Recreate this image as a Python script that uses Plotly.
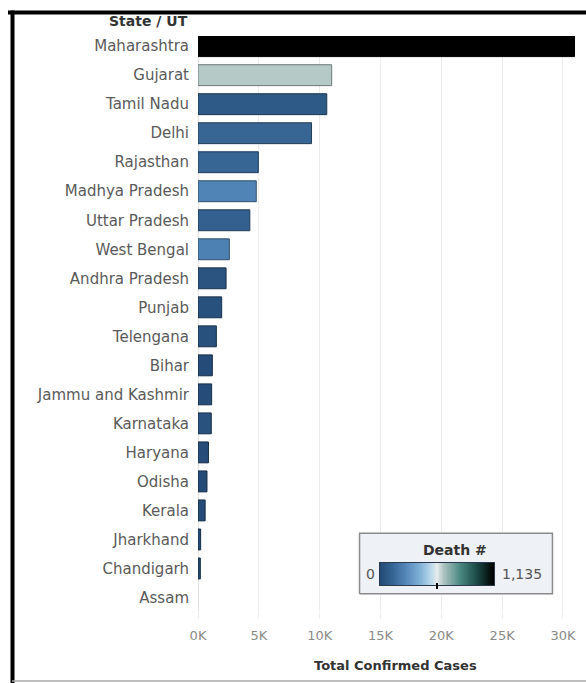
import re
import numpy as np
import plotly.graph_objects as go
import plotly.colors as pc

# ---------------- data ----------------
states = ["Maharashtra", "Gujarat", "Tamil Nadu", "Delhi", "Rajasthan",
          "Madhya Pradesh", "Uttar Pradesh", "West Bengal", "Andhra Pradesh",
          "Punjab", "Telengana", "Bihar", "Jammu and Kashmir", "Karnataka",
          "Haryana", "Odisha", "Kerala", "Jharkhand", "Chandigarh", "Assam"]
cases = [30950, 10988, 10585, 9333, 4960, 4789, 4258, 2576, 2307, 1946,
         1509, 1179, 1121, 1092, 859, 737, 587, 217, 191, 0]
deaths = [1135, 625, 74, 129, 125, 243, 104, 232, 48, 32,
          34, 7, 13, 36, 13, 3, 4, 3, 3, 2]
x_tick_vals = [0, 5000, 10000, 15000, 20000, 25000, 30000]
x_tick_text = ["0K", "5K", "10K", "15K", "20K", "25K", "30K"]

colorscale = [
    [0.00, "rgb(36,74,118)"],
    [0.10, "rgb(52,98,145)"],
    [0.22, "rgb(82,134,184)"],
    [0.35, "rgb(127,176,214)"],
    [0.45, "rgb(188,217,236)"],
    [0.50, "rgb(230,236,236)"],
    [0.56, "rgb(172,194,192)"],
    [0.70, "rgb(76,138,131)"],
    [0.85, "rgb(27,74,70)"],
    [1.00, "rgb(0,0,0)"],
]
dmax = max(deaths)

# border colours: darker shade of each fill
fills = pc.sample_colorscale(colorscale, [d / dmax for d in deaths])


def darken(c, f=0.6):
    r, g, b = [float(v) for v in re.findall(r"[\d.]+", c)[:3]]
    return "rgb(%d,%d,%d)" % (r * f, g * f, b * f)


borders = [darken(c) for c in fills]
border_w = [1 if v > 0 else 0 for v in cases]

# ---------------- geometry helpers (pixel -> paper) ----------------
W, H = 586, 683
L, R, T, B = 198, 6, 36, 72
PW, PH = W - L - R, H - T - B


def px(x):
    return (x - L) / PW


def py(y):
    return (H - B - y) / PH


fig = go.Figure()

fig.add_trace(go.Bar(
    x=cases, y=states, orientation="h",
    marker=dict(color=deaths, colorscale=colorscale, cmin=0, cmax=dmax,
                line=dict(color=borders, width=border_w)),
    showlegend=False, hoverinfo="x+y",
))

# legend box background (on its own overlay subplot so it hides the gridlines)
fig.add_trace(go.Scatter(
    x=[0, 1, 1, 0, 0], y=[0, 0, 1, 1, 0], mode="lines", fill="toself",
    fillcolor="#eef1f6", line=dict(color="#8a8a8a", width=1.5),
    xaxis="x2", yaxis="y2", showlegend=False, hoverinfo="skip",
))

# colour gradient of the legend
grad = np.linspace(0, dmax, 200)
fig.add_trace(go.Heatmap(
    z=[grad], x=grad, y=[0], colorscale=colorscale, zmin=0, zmax=dmax,
    showscale=False, xaxis="x3", yaxis="y3", hoverinfo="skip",
))

fig.update_layout(
    width=W, height=H,
    margin=dict(l=L, r=R, t=T, b=B),
    paper_bgcolor="white", plot_bgcolor="white",
    font=dict(family="DejaVu Sans", color="#555"),
    bargap=0.28,
    xaxis=dict(
        range=[0, 31400], tickvals=x_tick_vals, ticktext=x_tick_text,
        showgrid=True, gridcolor="#ececec", gridwidth=1,
        zeroline=True, zerolinecolor="#e4e4e4", zerolinewidth=1,
        ticks="outside", ticklen=7, tickcolor="#eeeeee",
        ticklabelstandoff=5,
        tickfont=dict(size=13, color="#8a8a8a"), showline=False,
    ),
    yaxis=dict(
        type="category", categoryorder="array", categoryarray=states,
        range=[19.466, -0.35], showgrid=False, zeroline=False,
        ticks="outside", ticklen=5, tickcolor="rgba(0,0,0,0)",
        tickfont=dict(size=15, color="#5a5a5a"),
    ),
    xaxis2=dict(domain=[px(358), px(554)], anchor="y2", range=[-0.008, 1.008],
                visible=False, fixedrange=True),
    yaxis2=dict(domain=[py(595), py(532)], anchor="x2", range=[-0.02, 1.02],
                visible=False, fixedrange=True),
    xaxis3=dict(domain=[px(380), px(494)], anchor="y3", showticklabels=False,
                ticks="", showgrid=False, zeroline=False, showline=True,
                mirror=True, linecolor="#2a3a4a", linewidth=1, fixedrange=True),
    yaxis3=dict(domain=[py(585), py(563)], anchor="x3", showticklabels=False,
                ticks="", showgrid=False, zeroline=False, showline=True,
                mirror=True, linecolor="#2a3a4a", linewidth=1, fixedrange=True),
)

ann = [
    dict(text="<b>State / UT</b>", x=px(190), y=py(21), xanchor="right",
         yanchor="middle", font=dict(size=14, color="#333")),
    dict(text="<b>Total Confirmed Cases</b>", x=px(395), y=py(665),
         xanchor="center", yanchor="middle", font=dict(size=13, color="#333")),
    dict(text="<b>Death #</b>", x=px(455), y=py(550), xanchor="center",
         yanchor="middle", font=dict(size=14, color="#333")),
    dict(text="0", x=px(370), y=py(574), xanchor="center", yanchor="middle",
         font=dict(size=14, color="#555")),
    dict(text="1,135", x=px(522), y=py(574), xanchor="center",
         yanchor="middle", font=dict(size=14, color="#555")),
]
for a in ann:
    a.update(xref="paper", yref="paper", showarrow=False)
fig.update_layout(annotations=ann)

shapes = [
    # outer frame
    dict(type="line", x0=px(8), x1=px(600), y0=py(12.5), y1=py(12.5),
         line=dict(color="black", width=4)),
    dict(type="line", x0=px(12.5), x1=px(12.5), y0=py(10.5), y1=py(700),
         line=dict(color="black", width=4)),
    dict(type="line", x0=px(12), x1=px(600), y0=py(681), y1=py(681),
         line=dict(color="#a8a8a8", width=1.5)),
    # centre notch of the gradient
    dict(type="line", x0=px(437), x1=px(437), y0=py(583), y1=py(589),
         line=dict(color="black", width=2)),
]
for s in shapes:
    s.update(xref="paper", yref="paper", layer="above")
fig.update_layout(shapes=shapes)

fig.write_html("out.html")
